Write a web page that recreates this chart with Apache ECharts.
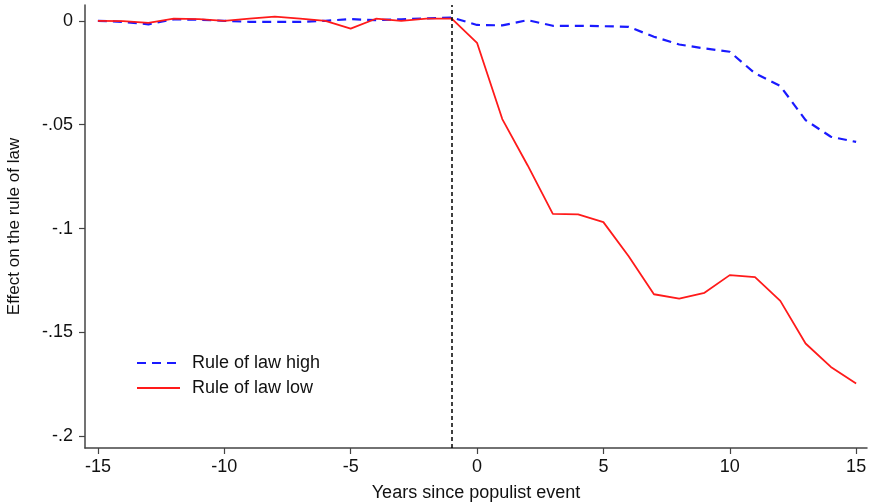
<!DOCTYPE html>
<html>
<head>
<meta charset="utf-8">
<script src="https://cdn.jsdelivr.net/npm/echarts@6/dist/echarts.min.js"></script>
<style>
  html, body { margin: 0; padding: 0; background: #fff; }
  #chart { width: 869px; height: 504px; }
</style>
</head>
<body>
<div id="chart"></div>
<script>
// years relative to the populist event
const years = [-15, -14, -13, -12, -11, -10, -9, -8, -7, -6, -5, -4, -3, -2, -1,
  0, 1, 2, 3, 4, 5, 6, 7, 8, 9, 10, 11, 12, 13, 14, 15]

const ruleHigh = [0, -0.0005, -0.0017, 0.0007, 0.0005, 0, -0.0005, -0.0005, -0.0005, 0, 0.0008,
  0.0003, 0.0007, 0.0012, 0.0016,
  -0.002, -0.0022, 0.0003, -0.0024, -0.0024, -0.0026, -0.0029, -0.0077, -0.0114, -0.0133,
  -0.0149, -0.0253, -0.0314, -0.0478, -0.0558, -0.0583]

const ruleLow = [0, -0.0002, -0.001, 0.001, 0.0008, 0, 0.001, 0.002, 0.001, 0, -0.0038,
  0.001, 0, 0.001, 0.001,
  -0.0106, -0.0473, -0.0695, -0.0929, -0.0932, -0.0969, -0.1133, -0.1316, -0.1337, -0.1309,
  -0.1224, -0.1234, -0.1348, -0.1553, -0.1666, -0.1746]

const xTicks = [-15, -10, -5, 0, 5, 10, 15]
const yTicks = [0, -0.05, -0.1, -0.15, -0.2]
const eventYear = -1

const font = 'Liberation Sans, Arial, sans-serif'
const axisColor = '#444'

const chart = echarts.init(document.getElementById('chart'))
chart.setOption({
  animation: false,
  textStyle: { fontFamily: font },
  grid: { left: 85, right: 2, top: 5, bottom: 56, containLabel: false, outerBoundsMode: 'none' },
  legend: {
    orient: 'vertical',
    left: 131,
    top: 349,
    itemWidth: 43,
    itemHeight: 12,
    itemGap: 7,
    itemStyle: { opacity: 0 },
    textStyle: { fontSize: 18, color: '#111', fontFamily: font, padding: [0, 0, 0, 7] },
    data: ['Rule of law high', 'Rule of law low']
  },
  xAxis: {
    type: 'value',
    min: -15.51,
    max: 15.43,
    name: 'Years since populist event',
    nameLocation: 'middle',
    nameGap: 36,
    nameTextStyle: { fontSize: 18, color: '#111' },
    splitLine: { show: false },
    axisLine: { onZero: false, lineStyle: { color: axisColor, width: 1.5 } },
    axisTick: { customValues: xTicks, length: 6, lineStyle: { color: axisColor, width: 1.2 } },
    axisLabel: { customValues: xTicks, fontSize: 18, color: '#111', margin: 10 }
  },
  yAxis: {
    type: 'value',
    min: -0.2056,
    max: 0.0076,
    name: 'Effect on the rule of law',
    nameLocation: 'middle',
    nameGap: 62,
    nameTextStyle: { fontSize: 17, color: '#111' },
    splitLine: { show: false },
    axisLine: { show: true, onZero: false, lineStyle: { color: axisColor, width: 1.5 } },
    axisTick: { show: true, customValues: yTicks, length: 6, lineStyle: { color: axisColor, width: 1.2 } },
    axisLabel: {
      customValues: yTicks,
      fontSize: 18,
      color: '#111',
      margin: 12,
      formatter: v => v === 0 ? '0' : String(+v.toFixed(3)).replace('0.', '.')
    }
  },
  series: [
    {
      name: 'Rule of law high',
      type: 'line',
      symbol: 'none',
      data: years.map((t, i) => [t, ruleHigh[i]]),
      lineStyle: { color: '#1a1aff', width: 2.2, type: [9, 6] },
      itemStyle: { color: '#1a1aff' },
      z: 3,
      markLine: {
        silent: true,
        symbol: 'none',
        label: { show: false },
        lineStyle: { color: '#000', width: 1.5, type: [4, 3] },
        data: [{ xAxis: eventYear }]
      }
    },
    {
      name: 'Rule of law low',
      type: 'line',
      symbol: 'none',
      data: years.map((t, i) => [t, ruleLow[i]]),
      lineStyle: { color: '#ff1a1a', width: 1.8 },
      itemStyle: { color: '#ff1a1a' },
      z: 4
    }
  ]
})
</script>
</body>
</html>
